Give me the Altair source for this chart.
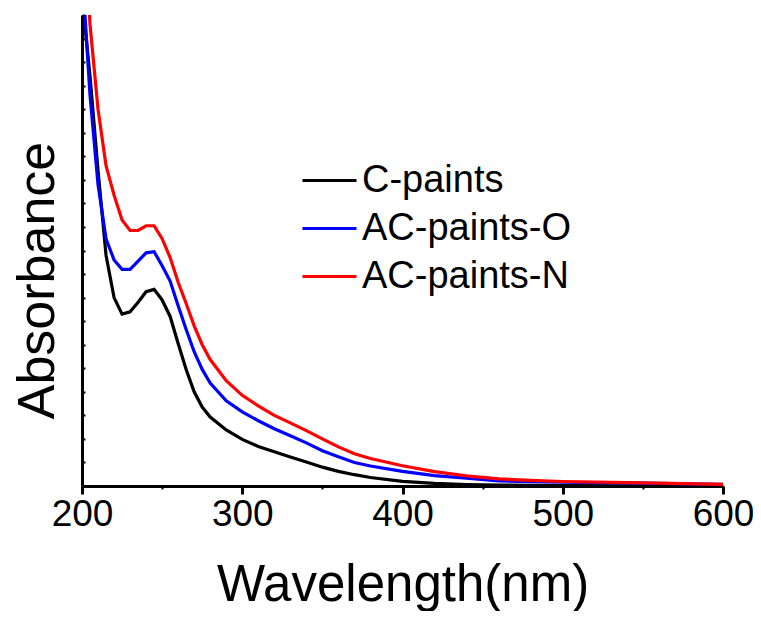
import altair as alt
import pandas as pd

wavelength = [200, 205, 210, 215, 220, 225, 230, 235, 240, 245, 250, 255, 260, 265, 270, 275, 280,
              290, 300, 310, 320, 330, 340, 350, 360, 370, 380, 400, 420, 440, 460, 480, 500, 550, 600]

c_paints = [2.08, 1.74, 1.34, 0.98, 0.80, 0.73, 0.74, 0.78, 0.825, 0.835, 0.79, 0.72, 0.605, 0.495, 0.40, 0.335, 0.293,
            0.238, 0.198, 0.168, 0.145, 0.123, 0.102, 0.080, 0.062, 0.048, 0.036, 0.020, 0.011, 0.006, 0.004, 0.003, 0.002, 0.001, 0.0]

ac_paints_o = [2.2, 1.66, 1.28, 1.05, 0.96, 0.92, 0.92, 0.955, 0.99, 0.995, 0.935, 0.87, 0.765, 0.665, 0.57, 0.495, 0.437,
               0.362, 0.315, 0.277, 0.243, 0.213, 0.183, 0.150, 0.124, 0.100, 0.085, 0.062, 0.044, 0.033, 0.022, 0.018, 0.016, 0.012, 0.007]

ac_paints_n = [2.6, 1.96, 1.60, 1.36, 1.235, 1.13, 1.085, 1.085, 1.105, 1.105, 1.05, 0.97, 0.865, 0.775, 0.68, 0.60, 0.537,
               0.447, 0.385, 0.340, 0.300, 0.268, 0.235, 0.200, 0.166, 0.137, 0.117, 0.086, 0.061, 0.043, 0.030, 0.024, 0.019, 0.013, 0.007]

series_names = ["C-paints", "AC-paints-O", "AC-paints-N"]
series_colors = ["#000000", "#0000ff", "#ff0000"]
x_major = [200, 300, 400, 500, 600]
x_minor = [250, 350, 450, 550]
y_ticks = [round(i * 0.1, 1) for i in range(21)]

rows = []
for name, vals in zip(series_names, [c_paints, ac_paints_o, ac_paints_n]):
    for w, v in zip(wavelength, vals):
        rows.append({"wl": w, "val": v, "series": name, "ord": series_names.index(name)})
df = pd.DataFrame(rows)
minor_df = pd.DataFrame({"wl": x_minor})

FONT = "Liberation Sans"

x_scale = alt.Scale(domain=[200, 600], nice=False, zero=False)
y_scale = alt.Scale(domain=[0, 2.0], nice=False)

lines = alt.Chart(df).mark_line(strokeWidth=3.2, clip=True).encode(
    x=alt.X("wl:Q", scale=x_scale,
            axis=alt.Axis(values=x_major, title="Wavelength(nm)", tickSize=8, tickWidth=3, orient="bottom",
                          labelFontSize=37, labelPadding=2, labelFlush=False, titleFontSize=51,
                          titleFontWeight="normal", titleY=114, titleBaseline="alphabetic",
                          grid=False, format="d")),
    y=alt.Y("val:Q", scale=y_scale,
            axis=alt.Axis(values=y_ticks, labels=False, title="Absorbance", tickSize={"expr": "-3"},
                          tickWidth=2, titleFontSize=52, titleFontWeight="normal", grid=False,
                          titleX=-29, titleY=265, titleBaseline="alphabetic", titleAlign="center",
                          titleAngle=270)),
    color=alt.Color("series:N", scale=alt.Scale(domain=series_names, range=series_colors),
                    legend=alt.Legend(title=None, orient="none", legendX=219, legendY=137,
                                      symbolType="stroke", symbolSize=2916, symbolStrokeWidth=3,
                                      labelFontSize=38, labelFont=FONT, labelOffset=4,
                                      rowPadding=0, padding=0, labelLimit=400)),
    detail="series:N",
    order=alt.Order("ord:Q"),
)

minor = alt.Chart(minor_df).mark_rule(opacity=0).encode(
    x=alt.X("wl:Q", scale=x_scale,
            axis=alt.Axis(values=x_minor, labels=False, title=None, tickSize=3, tickWidth=2,
                          orient="bottom", domain=False, grid=False)),
)

chart = alt.layer(lines, minor).resolve_axis(x="independent").properties(
    width=641, height=471,
    padding={"left": 74, "top": 7, "right": 30, "bottom": 125},
    autosize=alt.AutoSizeParams(type="none"),
).configure_axis(
    domainColor="black", domainWidth=3, tickColor="black", labelColor="black", titleColor="black",
    labelFont=FONT, titleFont=FONT,
).configure_view(stroke=None).configure_legend(labelColor="black")

chart.save("out.html", embed_options={"renderer": "svg", "actions": False})
